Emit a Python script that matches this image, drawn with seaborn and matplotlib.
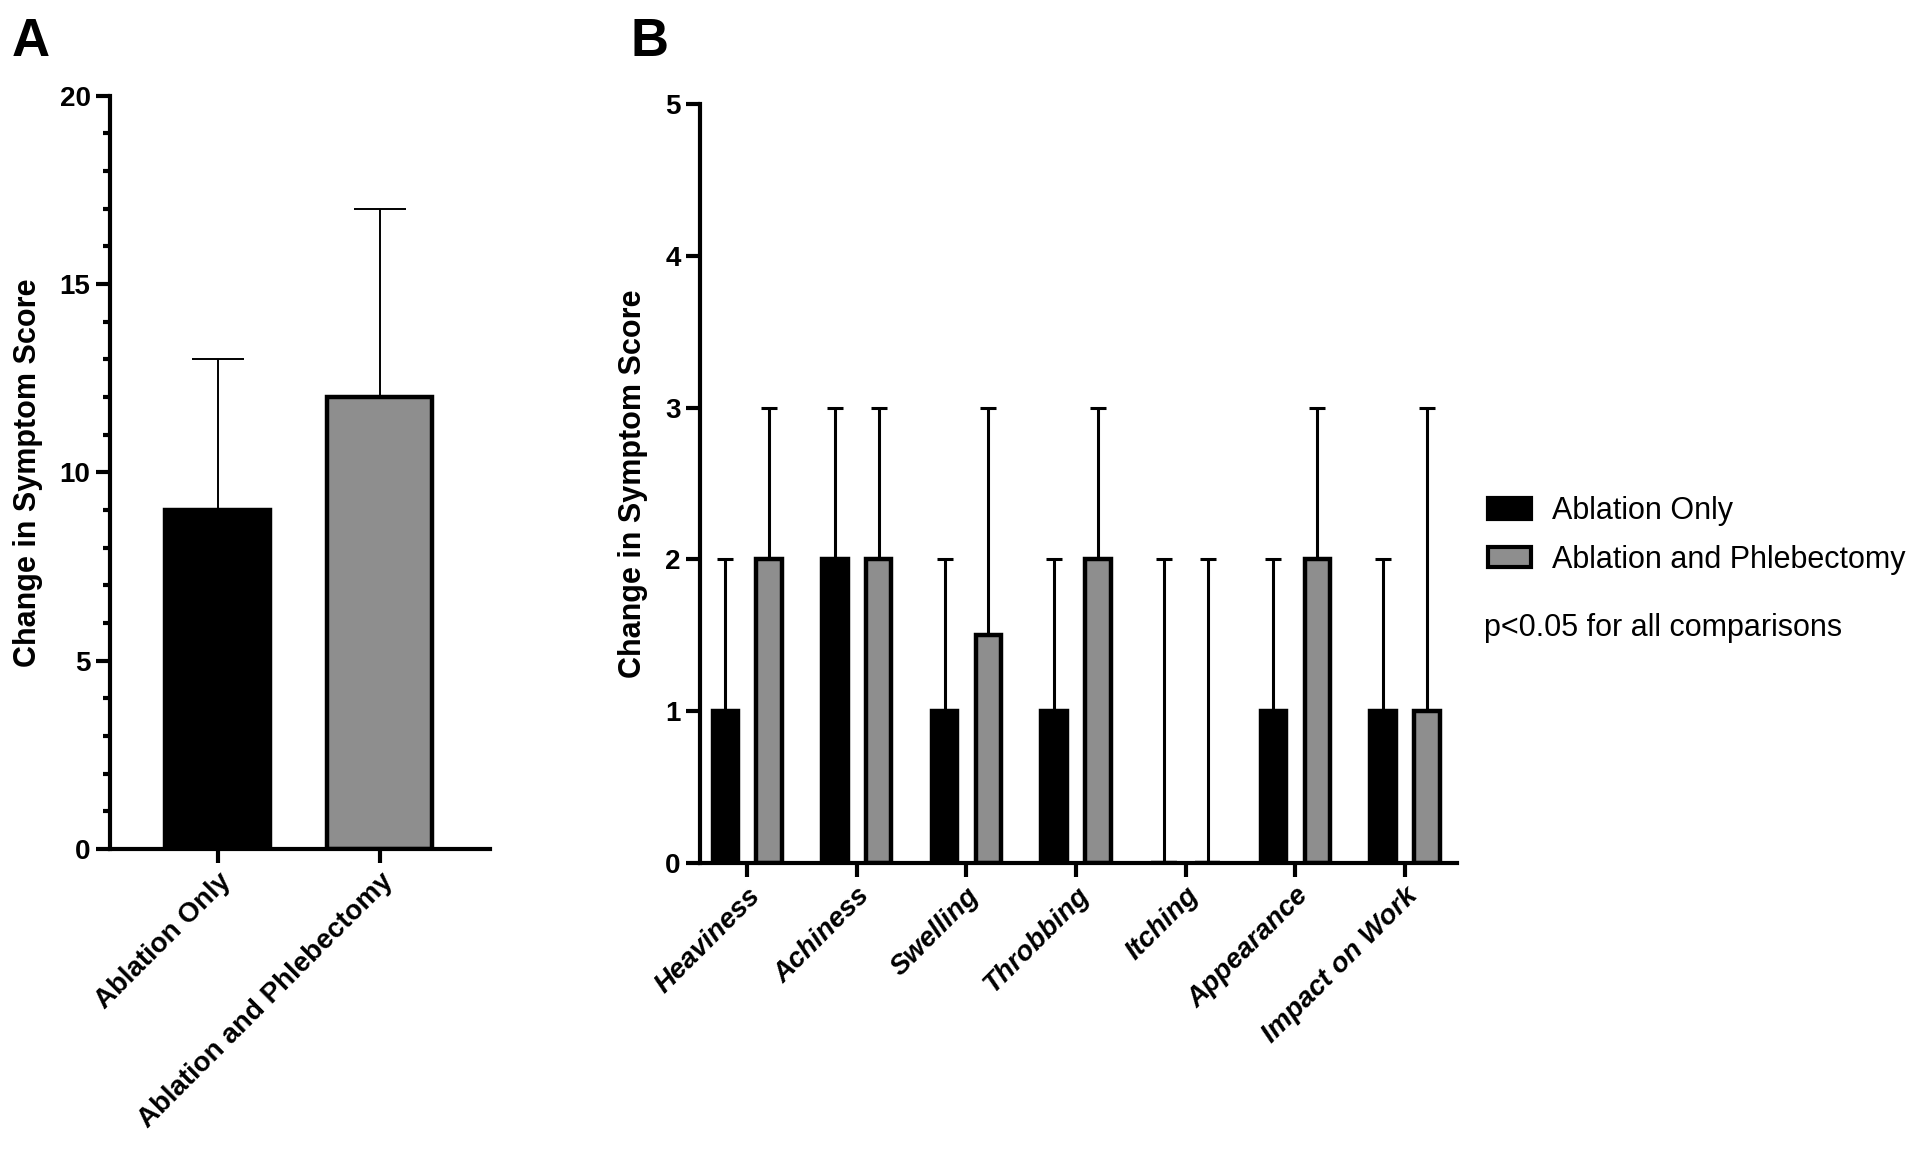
import matplotlib
matplotlib.use("Agg")
import matplotlib.pyplot as plt
import pandas as pd
import seaborn as sns
from matplotlib.patches import Patch
from matplotlib.ticker import MultipleLocator

# -----------------------------
# data: panel A (total score)
# -----------------------------
groups = ["Ablation Only", "Ablation and Phlebectomy"]
total_change = [9, 12]
total_upper = [13, 17]

# -----------------------------
# data: panel B (per symptom)
# -----------------------------
symptoms = ["Heaviness", "Achiness", "Swelling", "Throbbing", "Itching",
            "Appearance", "Impact on Work"]
ablation_only = [1, 2, 1, 1, 0, 1, 1]
ablation_only_upper = [2, 3, 2, 2, 2, 2, 2]
ablation_phleb = [2, 2, 1.5, 2, 0, 2, 1]
ablation_phleb_upper = [3, 3, 3, 3, 2, 3, 3]

colors = ["#000000", "#8e8e8e"]

sns.set_style("ticks")
plt.rcParams["font.family"] = ["Liberation Sans", "DejaVu Sans"]
plt.rcParams.update({
    "text.color": "black",
    "axes.labelcolor": "black",
    "axes.edgecolor": "black",
    "xtick.color": "black",
    "ytick.color": "black",
})

fig = plt.figure(figsize=(19.2, 11.58), dpi=100)
axA = fig.add_axes([0.0573, 0.2668, 0.198, 0.6507])
axB = fig.add_axes([0.3646, 0.2547, 0.394, 0.6554])

# -----------------------------
# panel A
# -----------------------------
dfA = pd.DataFrame({"group": groups, "change": total_change})
sns.barplot(data=dfA, x="group", y="change", hue="group", palette=colors,
            saturation=1, width=0.65, edgecolor="black", linewidth=3.2,
            legend=False, ax=axA)

for bar in axA.patches:
    xc = bar.get_x() + bar.get_width() / 2
    h = bar.get_height()
    up = total_upper[int(round(xc))]
    axA.errorbar(xc, h, yerr=[[0], [up - h]], fmt="none", ecolor="black",
                 elinewidth=1.4, capsize=19, capthick=1.4, zorder=0.5)

axA.set_ylim(0, 20)
axA.set_xlim(-0.667, 1.684)
axA.yaxis.set_major_locator(MultipleLocator(5))
axA.yaxis.set_minor_locator(MultipleLocator(1))
axA.set_xticks(range(len(groups)))
axA.set_xticklabels(groups, rotation=45, ha="right", rotation_mode="anchor",
                    fontweight="bold", fontsize=20)
axA.tick_params(axis="y", which="minor", length=5, width=3)

# -----------------------------
# panel B
# -----------------------------
dfB = pd.DataFrame({
    "symptom": symptoms * 2,
    "change": ablation_only + ablation_phleb,
    "treatment": [groups[0]] * len(symptoms) + [groups[1]] * len(symptoms),
})
sns.barplot(data=dfB, x="symptom", y="change", hue="treatment",
            palette=colors, saturation=1, width=0.8, gap=0.42,
            edgecolor="black", linewidth=3.2, legend=False, ax=axB)

for bars, uppers in zip(axB.containers, [ablation_only_upper, ablation_phleb_upper]):
    for bar, up in zip(bars, uppers):
        xc = bar.get_x() + bar.get_width() / 2
        h = bar.get_height()
        axB.errorbar(xc, h, yerr=[[0], [up - h]], fmt="none", ecolor="black",
                     elinewidth=2.2, capsize=5.5, capthick=2.2, zorder=0.5)

axB.set_ylim(0, 5)
axB.set_xlim(-0.43, 6.47)
axB.set_yticks(range(6))
axB.set_xticks(range(len(symptoms)))
axB.set_xticklabels(symptoms, rotation=45, ha="right", rotation_mode="anchor",
                    fontweight="bold", fontstyle="italic", fontsize=20)

# -----------------------------
# shared axis styling
# -----------------------------
for ax in (axA, axB):
    sns.despine(ax=ax)
    ax.spines["left"].set_linewidth(3)
    ax.spines["bottom"].set_linewidth(3)
    ax.tick_params(axis="both", which="major", length=10, width=3, pad=4)
    ax.tick_params(axis="y", labelsize=20)
    for lab in ax.get_yticklabels():
        lab.set_fontweight("bold")
    ax.set_xlabel("")
    ax.set_ylabel("Change in Symptom Score", fontsize=22, fontweight="bold",
                  labelpad=12)

# legend + note
handles = [Patch(facecolor=c, edgecolor="black", linewidth=3) for c in colors]
fig.legend(handles, groups, loc="center left", bbox_to_anchor=(0.775, 0.5376),
           frameon=False, fontsize=22, handlelength=1.4, handleheight=0.65,
           handletextpad=0.7, labelspacing=0.6, borderpad=0, borderaxespad=0)
fig.text(0.773, 0.4577, "p<0.05 for all comparisons", fontsize=22, va="center")

# panel letters
fig.text(0.006, 0.985, "A", fontsize=38, fontweight="bold", va="top")
fig.text(0.3285, 0.985, "B", fontsize=38, fontweight="bold", va="top")

fig.savefig("out.png", dpi=100)
